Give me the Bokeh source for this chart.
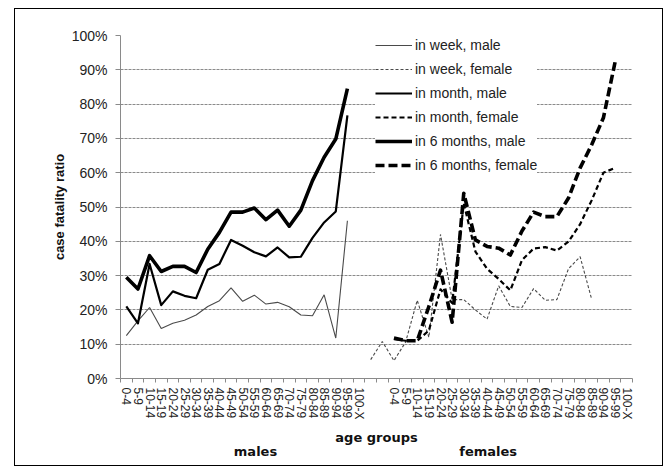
from bokeh.plotting import figure
from bokeh.models import (Range1d, FixedTicker, NumeralTickFormatter, Legend, LegendItem,
                          LinearAxis)
from bokeh.embed import file_html
from bokeh.resources import INLINE

# Age groups (shared by both sexes)
age_groups = ["0-4", "5-9", "10-14", "15-19", "20-24", "25-29", "30-34", "35-39",
              "40-44", "45-49", "50-54", "55-59", "60-64", "65-69", "70-74", "75-79",
              "80-84", "85-89", "90-94", "95-99", "100-X"]

# Case fatality ratios, males (0-4 .. 95-99)
male_week = [0.125, 0.168, 0.207, 0.146, 0.161, 0.170, 0.185, 0.210, 0.227, 0.264,
             0.225, 0.243, 0.217, 0.222, 0.209, 0.185, 0.183, 0.244, 0.118, 0.460]
male_month = [0.210, 0.161, 0.334, 0.214, 0.254, 0.241, 0.234, 0.317, 0.334, 0.404,
              0.387, 0.368, 0.356, 0.382, 0.353, 0.355, 0.410, 0.455, 0.487, 0.767]
male_6months = [0.295, 0.261, 0.358, 0.312, 0.327, 0.327, 0.309, 0.377, 0.426, 0.485,
                0.485, 0.497, 0.463, 0.491, 0.444, 0.491, 0.577, 0.645, 0.698, 0.845]

# Case fatality ratios, females
female_week = [0.055, 0.108, 0.052, 0.106, 0.228, 0.120, 0.420, 0.230, 0.230, 0.200,
               0.173, 0.270, 0.210, 0.207, 0.262, 0.228, 0.230, 0.320, 0.355, 0.230]
female_month = [0.115, 0.110, 0.110, 0.140, 0.260, 0.220, 0.510, 0.370, 0.320, 0.290,
                0.257, 0.345, 0.379, 0.383, 0.373, 0.399, 0.450, 0.520, 0.600, 0.614]
female_6months = [0.118, 0.110, 0.110, 0.210, 0.316, 0.164, 0.540, 0.404, 0.385, 0.380,
                  0.360, 0.430, 0.485, 0.472, 0.472, 0.526, 0.614, 0.682, 0.760, 0.922]

panel_names = ["males", "females"]

n = len(age_groups)
gap = 2                      # empty slots between the two panels
female_start = n + gap       # first female slot
week_female_start = n        # the week series for females starts two slots earlier
slots = 2 * n + gap


def xs(start, values):
    return list(range(start, start + len(values)))


p = figure(width=649, height=458, x_range=Range1d(-0.5, slots - 0.5),
           y_range=Range1d(0, 1), output_backend="svg", toolbar_location=None,
           min_border_left=105, min_border_right=32, min_border_top=26,
           min_border_bottom=89, margin=(8, 0, 0, 14),
           styles={"border": "1px solid black"})
p.outline_line_color = None
p.background_fill_color = "white"
p.border_fill_color = "white"

# grid
p.xgrid.grid_line_color = None
p.ygrid.ticker = FixedTicker(ticks=[i / 10 for i in range(1, 11)])
p.ygrid.grid_line_color = "#8a8a8a"
p.ygrid.grid_line_dash = "3 1"
p.ygrid.grid_line_width = 1

# y axis
p.yaxis.ticker = FixedTicker(ticks=[i / 10 for i in range(0, 11)])
p.yaxis.formatter = NumeralTickFormatter(format="0%")
p.yaxis.axis_line_color = "#8a8a8a"
p.yaxis.major_tick_line_color = "#8a8a8a"
p.yaxis.major_tick_out = 5
p.yaxis.major_tick_in = 0
p.yaxis.minor_tick_line_color = None
p.yaxis.major_label_text_font = "Liberation Sans"
p.yaxis.major_label_text_font_size = "14px"
p.yaxis.major_label_text_color = "#222222"
p.yaxis.major_label_standoff = 8
p.yaxis.axis_label = "case fatality ratio"
p.yaxis.axis_label_text_font = "Liberation Sans"
p.yaxis.axis_label_text_font_style = "bold"
p.yaxis.axis_label_text_font_size = "13px"
p.yaxis.axis_label_text_color = "#111111"
p.yaxis.axis_label_standoff = 2

# x axis: labels at slot centres, tick marks between slots
centers = list(range(n)) + list(range(female_start, female_start + n))
labels = age_groups + age_groups
p.xaxis.ticker = FixedTicker(ticks=centers,
                             minor_ticks=[i - 0.5 for i in range(slots + 1)])
p.xaxis.major_label_overrides = {c: l for c, l in zip(centers, labels)}
p.xaxis.major_label_orientation = "vertical"
p.xaxis.major_tick_out = 0
p.xaxis.major_tick_in = 0
p.xaxis.minor_tick_out = 4
p.xaxis.minor_tick_in = 0
p.xaxis.minor_tick_line_color = "#8a8a8a"
p.xaxis.axis_line_color = "#8a8a8a"
p.xaxis.major_label_text_font = "Liberation Sans"
p.xaxis.major_label_text_font_size = "12px"
p.xaxis.major_label_text_color = "#222222"
p.xaxis.major_label_standoff = 5
p.xaxis.axis_label = "age groups"
p.xaxis.axis_label_text_font = "DejaVu Sans"
p.xaxis.axis_label_text_font_style = "bold"
p.xaxis.axis_label_text_font_size = "13px"
p.xaxis.axis_label_text_color = "#111111"
p.xaxis.axis_label_standoff = 7

# second row under the axis naming the two panels
panel_axis = LinearAxis(ticker=FixedTicker(ticks=[11.1, 31.1]),
                        major_label_overrides={11.1: panel_names[0], 31.1: panel_names[1]})
panel_axis.axis_line_color = None
panel_axis.major_tick_line_color = None
panel_axis.minor_tick_line_color = None
panel_axis.major_tick_out = 0
panel_axis.major_tick_in = 0
panel_axis.major_label_standoff = -4
panel_axis.major_label_text_font = "DejaVu Sans"
panel_axis.major_label_text_font_style = "bold"
panel_axis.major_label_text_font_size = "13px"
panel_axis.major_label_text_color = "#111111"
p.add_layout(panel_axis, "below")

# series
r1 = p.line(xs(0, male_week), male_week, line_color="#4a4a4a", line_width=1.1)
r2 = p.line(xs(week_female_start, female_week), female_week, line_color="#4a4a4a",
            line_width=1.1, line_dash="3 2")
r3 = p.line(xs(0, male_month), male_month, line_color="black", line_width=2.2,
            line_join="round")
r4 = p.line(xs(female_start, female_month), female_month, line_color="black",
            line_width=2.2, line_dash="5 3", line_join="round")
r5 = p.line(xs(0, male_6months), male_6months, line_color="black", line_width=3.6,
            line_join="round")
r6 = p.line(xs(female_start, female_6months), female_6months, line_color="black",
            line_width=3.6, line_dash="9 4", line_join="round")

legend = Legend(items=[
    LegendItem(label="in week, male", renderers=[r1]),
    LegendItem(label="in week, female", renderers=[r2]),
    LegendItem(label="in month, male", renderers=[r3]),
    LegendItem(label="in month, female", renderers=[r4]),
    LegendItem(label="in 6 months, male", renderers=[r5]),
    LegendItem(label="in 6 months, female", renderers=[r6]),
], location=(255, 203))
legend.background_fill_color = "white"
legend.background_fill_alpha = 1.0
legend.border_line_color = None
legend.glyph_width = 37
legend.glyph_height = 20
legend.label_height = 20
legend.spacing = 4
legend.padding = 8
legend.margin = 0
legend.label_standoff = 3
legend.label_text_font = "Liberation Sans"
legend.label_text_font_size = "14px"
legend.label_text_color = "#222222"
p.add_layout(legend, "center")

open("out.html", "w").write(file_html(p, INLINE))
